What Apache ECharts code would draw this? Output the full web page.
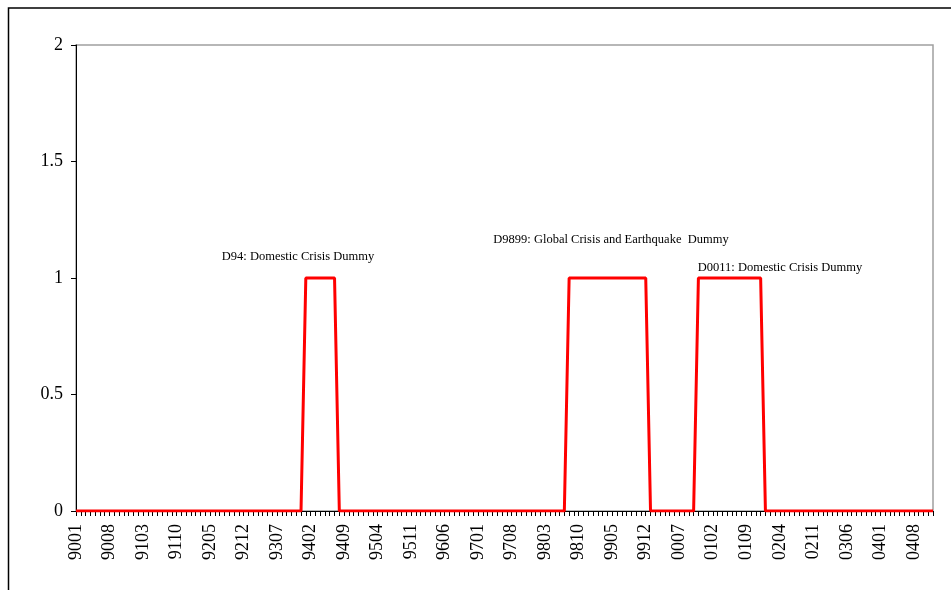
<!DOCTYPE html>
<html>
<head>
<meta charset="utf-8">
<script src="https://cdn.jsdelivr.net/npm/echarts@6/dist/echarts.min.js"></script>
<style>html,body{margin:0;padding:0;background:#fff}#c{width:951px;height:590px}</style>
</head>
<body>
<div id="c"></div>
<script>
// Monthly categories 1990-01 .. 2004-12 labelled YYMM
const years = ['90','91','92','93','94','95','96','97','98','99','00','01','02','03','04'];
const months = ['01','02','03','04','05','06','07','08','09','10','11','12'];
const categories = [];
years.forEach(y => months.forEach(m => categories.push(y + m)));

// Crisis dummy values, one row per year (Jan..Dec)
const dummy = [
  0,0,0,0,0,0,0,0,0,0,0,0, // 1990
  0,0,0,0,0,0,0,0,0,0,0,0, // 1991
  0,0,0,0,0,0,0,0,0,0,0,0, // 1992
  0,0,0,0,0,0,0,0,0,0,0,0, // 1993
  1,1,1,1,1,1,1,0,0,0,0,0, // 1994
  0,0,0,0,0,0,0,0,0,0,0,0, // 1995
  0,0,0,0,0,0,0,0,0,0,0,0, // 1996
  0,0,0,0,0,0,0,0,0,0,0,0, // 1997
  0,0,0,0,0,0,0,1,1,1,1,1, // 1998
  1,1,1,1,1,1,1,1,1,1,1,1, // 1999
  0,0,0,0,0,0,0,0,0,0,1,1, // 2000
  1,1,1,1,1,1,1,1,1,1,1,1, // 2001
  0,0,0,0,0,0,0,0,0,0,0,0, // 2002
  0,0,0,0,0,0,0,0,0,0,0,0, // 2003
  0,0,0,0,0,0,0,0,0,0,0,0  // 2004
];

const yTicks = { min: 0, max: 2, interval: 0.5 };
const annotations = [
  { text: 'D94: Domestic Crisis Dummy', x: 298, y: 257 },
  { text: 'D9899: Global Crisis and Earthquake  Dummy', x: 611, y: 240 },
  { text: 'D0011: Domestic Crisis Dummy', x: 780, y: 268 }
];

const FONT = "'Liberation Serif','Times New Roman',serif";
const chart = echarts.init(document.getElementById('c'));
chart.setOption({
  animation: false,
  backgroundColor: '#fff',
  grid: { left: 76, right: 18, top: 45, bottom: 79, show: true, borderColor: '#a0a0a0', borderWidth: 1.5 },
  xAxis: {
    type: 'category',
    data: categories,
    boundaryGap: false,
    axisLine: { lineStyle: { color: '#000', width: 1 } },
    axisTick: { show: true, interval: 0, length: 5, lineStyle: { color: '#000' } },
    axisLabel: { interval: 6, rotate: 90, color: '#000', fontFamily: FONT, fontSize: 18, margin: 13 },
    splitLine: { show: false }
  },
  yAxis: {
    type: 'value',
    min: yTicks.min, max: yTicks.max, interval: yTicks.interval,
    axisLine: { show: true, lineStyle: { color: '#000', width: 1 } },
    axisTick: { show: true, length: 5, lineStyle: { color: '#000' } },
    axisLabel: { color: '#000', fontFamily: FONT, fontSize: 18, margin: 13 },
    splitLine: { show: false }
  },
  series: [{
    type: 'line',
    data: dummy,
    symbol: 'none',
    lineStyle: { color: '#ff0000', width: 3 },
    z: 5
  }],
  graphic: [
    { type: 'rect', shape: { x: 8.5, y: 8, width: 1000, height: 1000 }, style: { fill: 'none', stroke: '#000', lineWidth: 1.5 }, silent: true }
  ].concat(annotations.map(a => ({
    type: 'text', x: a.x, y: a.y,
    style: { text: a.text, fill: '#000', font: '12.5px ' + FONT, textAlign: 'center', textVerticalAlign: 'middle' }
  })))
});
</script>
</body>
</html>
